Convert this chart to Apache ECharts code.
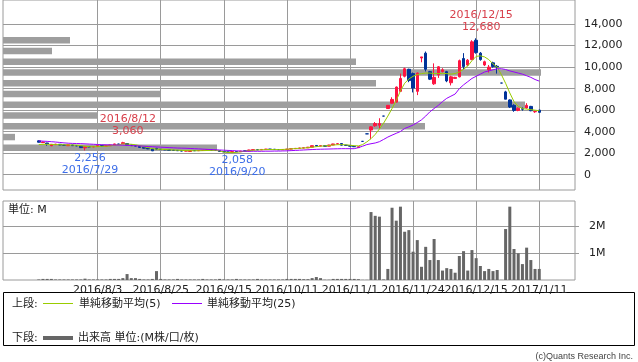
<!DOCTYPE html>
<html><head><meta charset="utf-8">
<script src="https://cdn.jsdelivr.net/npm/echarts@6/dist/echarts.min.js"></script>
<style>html,body{margin:0;padding:0;background:#fff}#c{width:638px;height:362px}</style>
</head><body><div id="c"></div>
<script>
const dates = ['2016/7/13','2016/7/14','2016/7/15','2016/7/19','2016/7/20','2016/7/21','2016/7/22','2016/7/25','2016/7/26','2016/7/27','2016/7/28','2016/7/29',
'2016/8/1','2016/8/2','2016/8/3','2016/8/4','2016/8/5','2016/8/8','2016/8/9','2016/8/10','2016/8/12','2016/8/15','2016/8/16','2016/8/17','2016/8/18','2016/8/19','2016/8/22','2016/8/23','2016/8/24','2016/8/25','2016/8/26','2016/8/29','2016/8/30','2016/8/31',
'2016/9/1','2016/9/2','2016/9/5','2016/9/6','2016/9/7','2016/9/8','2016/9/9','2016/9/12','2016/9/13','2016/9/14','2016/9/15','2016/9/16','2016/9/20','2016/9/21','2016/9/23','2016/9/26','2016/9/27','2016/9/28','2016/9/29','2016/9/30',
'2016/10/3','2016/10/4','2016/10/5','2016/10/6','2016/10/7','2016/10/11','2016/10/12','2016/10/13','2016/10/14','2016/10/17','2016/10/18','2016/10/19','2016/10/20','2016/10/21','2016/10/24','2016/10/25','2016/10/26','2016/10/27','2016/10/28','2016/10/31',
'2016/11/1','2016/11/2','2016/11/4','2016/11/7','2016/11/8','2016/11/9','2016/11/10','2016/11/11','2016/11/14','2016/11/15','2016/11/16','2016/11/17','2016/11/18','2016/11/21','2016/11/22','2016/11/24','2016/11/25','2016/11/28','2016/11/29','2016/11/30',
'2016/12/1','2016/12/2','2016/12/5','2016/12/6','2016/12/7','2016/12/8','2016/12/9','2016/12/12','2016/12/13','2016/12/14','2016/12/15','2016/12/16','2016/12/19','2016/12/20','2016/12/21','2016/12/22','2016/12/26','2016/12/27','2016/12/28','2016/12/29','2016/12/30',
'2017/1/4','2017/1/5','2017/1/6','2017/1/10','2017/1/11'];

const opens  = [3150,2980,2950,2700,2800,2830,2760,2700,2760,2700,2650,2500,2620,2580,2620,2690,2660,2700,2780,2850,2880,2900,2760,2700,2640,2540,2470,2400,2450,2370,
2330,2310,2270,2260,2230,2200,2160,2240,2230,2250,2270,2300,2280,2240,2160,2120,2080,2160,2140,2220,2200,2300,2330,2310,2350,2380,2370,2340,2320,2340,
2380,2420,2450,2480,2500,2560,2720,2660,2700,2650,2760,2860,2900,2750,2720,2640,2520,3100,3800,4150,4550,4600,5450,6150,6650,6750,7750,9150,9800,9400,
7750,10850,11300,9580,8450,9280,9600,9580,8550,8950,9100,10800,10200,10700,12500,11300,10200,9750,10400,10080,8520,7700,6950,6450,5980,6150,6200,6350,5850,6000];
const closes = [3020,3040,2870,2820,2840,2760,2740,2780,2700,2690,2520,2600,2580,2620,2700,2660,2700,2760,2860,2830,2980,2760,2700,2660,2540,2470,2400,2220,2380,2330,
2310,2270,2260,2230,2200,2210,2240,2230,2250,2270,2300,2280,2250,2160,2120,2100,2150,2130,2200,2190,2300,2330,2310,2350,2380,2360,2340,2320,2340,2380,
2420,2450,2480,2500,2560,2700,2660,2700,2640,2760,2860,2880,2750,2720,2650,2600,2600,3100,3800,4450,4750,4750,5450,6450,7000,8150,8950,9850,8750,8050,
9450,10950,9800,8880,9050,10030,9750,8720,9100,9050,10600,10050,10650,12350,11350,10700,10500,10000,10050,10020,8520,7020,6300,5980,6180,6080,6450,5950,5880,5800];
const lows   = [2990,2950,2700,2650,2780,2740,2720,2680,2680,2650,2500,2256,2560,2560,2600,2640,2650,2680,2760,2800,2860,2740,2680,2640,2520,2440,2380,2200,2300,2310,
2290,2250,2240,2210,2180,2180,2150,2210,2210,2230,2250,2260,2230,2150,2100,2080,2058,2110,2130,2170,2190,2280,2290,2300,2330,2340,2320,2300,2300,2320,
2360,2400,2430,2460,2480,2540,2640,2640,2620,2640,2740,2840,2720,2700,2620,2580,2480,3100,3800,3300,4450,4300,5450,6150,6600,6700,7700,9050,8600,7650,
7400,10450,9600,8800,8350,9000,9500,8600,8300,8900,9050,9800,10100,10650,11250,10600,10100,9500,9950,9400,8520,7020,6200,5850,5900,5950,6150,5900,5750,5750];
const highs  = [3200,3080,2960,2850,2870,2850,2780,2790,2770,2720,2660,2610,2650,2640,2720,2710,2720,2780,2880,2870,3060,2930,2780,2720,2660,2560,2480,2410,2500,2390,
2340,2320,2290,2280,2250,2230,2250,2260,2270,2290,2320,2320,2290,2250,2180,2140,2160,2180,2210,2240,2320,2350,2350,2370,2400,2400,2390,2360,2360,2400,
2440,2470,2500,2520,2580,2720,2760,2720,2720,2780,2880,2920,2930,2780,2740,2660,2620,3100,3800,4500,4900,5250,5450,6450,7200,8200,9400,9950,9850,9500,
9500,10950,11450,9650,10350,10100,9900,9650,9200,9100,10700,11300,10750,12500,12680,11400,10600,10200,10500,10200,8520,7800,7000,6550,6250,6250,6650,6400,5950,6050];

const volumes = [0.02,0.04,0.04,0.04,0.02,0.02,0.02,0.02,0.02,0.02,0.02,0.05,0.02,0.02,0.02,0.02,0.02,0.04,0.04,0.04,0.07,0.22,0.07,0.07,0.04,0.02,0.02,0.04,0.33,0.04,
0.02,0.02,0.02,0.04,0.02,0.02,0.02,0.02,0.02,0.04,0.02,0.02,0.02,0.04,0.02,0.02,0.02,0.04,0.02,0.02,0.02,0.02,0.04,0.02,0.02,0.02,0.02,0.02,0.02,0.04,
0.04,0.04,0.04,0.03,0.03,0.07,0.11,0.07,0.01,0.01,0.04,0.04,0.04,0.04,0.04,0.04,0.03,0.005,0.005,2.52,2.38,2.35,0.02,0.41,2.68,2.20,2.72,1.79,1.85,1.05,
1.48,0.49,1.23,0.74,1.52,0.74,0.35,0.44,0.41,0.27,0.89,1.07,0.35,1.11,0.81,0.52,0.33,0.41,0.33,0.37,0.005,1.89,2.72,1.15,0.99,0.59,1.20,0.74,0.41,0.41];

const ma5 = [2810,2820,2830,2820,2800,2790,2780,2770,2760,2740,2700,2650,2610,2600,2610,2630,2650,2690,2740,2790,2850,2850,2830,2780,2700,2600,2520,2430,
2380,2360,2340,2320,2300,2280,2260,2240,2230,2230,2230,2240,2250,2260,2260,2220,2110,2070,2050,2080,2130,2180,2230,2270,2300,2320,2330,2340,2340,2340,
2350,2370,2400,2430,2460,2480,2510,2560,2610,2650,2680,2720,2760,2790,2800,2780,2740,2700,2680,2800,3050,3350,3750,4250,4800,5450,6150,6900,7800,
8500,8900,9150,9300,9400,9450,9450,9400,9400,9420,9400,9350,9400,9550,9800,10100,10600,11000,11050,10950,10700,10300,10000,9300,8500,7600,6800,6350,6150,6100,6050,6000,5950];
const ma25 = [3150,3120,3100,3070,3040,3000,2960,2930,2910,2900,2890,2870,2850,2830,2810,2790,2780,2770,2760,2760,2750,2730,2710,2690,2670,2650,2620,2600,
2580,2560,2540,2520,2500,2480,2470,2460,2440,2420,2400,2380,2360,2340,2320,2300,2280,2260,2240,2220,2200,2190,2180,2180,2180,2180,2190,2190,2200,2200,2210,
2220,2240,2260,2280,2300,2320,2340,2360,2370,2380,2390,2400,2410,2420,2420,2420,2420,
2520,2650,2800,2880,2950,3070,3280,3500,3680,3850,4020,4300,4450,4620,4850,5100,5450,5850,6150,6450,6800,7100,7300,7500,8000,8350,8650,8950,9150,9350,
9550,9650,9750,9850,9850,9780,9650,9550,9450,9350,9200,9050,8850,8700];

// price-band volume profile
const bandLows = [2000,3000,4000,5000,6000,7000,8000,9000,10000,11000,12000];
const bandVolumes = [214,12,422,95,522,157,373,538,353,49,67];

const labelDates = ['2016/8/3','2016/8/25','2016/9/15','2016/10/11','2016/11/1','2016/11/24','2016/12/15','2017/1/11'];
const priceTicks = [0,2000,4000,6000,8000,10000,12000,14000];
const volumeTicks = [1,2];

// high / low annotations
const annDates  = ['2016/12/15','2016/8/12','2016/7/29','2016/9/20'];
const annValues = [12680,3060,2256,2058];
const annKinds  = ['high','high','low','low'];

const flatDown = ['2016/11/7','2016/11/8','2016/11/14','2016/12/26'];

const padBefore = 8, padAfter = 8;
const categories = [];
for (let i = 0; i < padBefore; i++) categories.push('_a' + i);
dates.forEach(d => categories.push(d));
for (let i = 0; i < padAfter; i++) categories.push('_b' + i);

const UP = '#ff1440', DOWN = '#003399';
const GRIDC = '#9a9a9a';
const FONT = "'DejaVu Sans', 'Noto Sans CJK JP', sans-serif";

const candleData = dates.map((d, i) => {
  const item = { value: [d, opens[i], closes[i], lows[i], highs[i]] };
  if (flatDown.includes(d)) item.itemStyle = { color: DOWN, borderColor: DOWN, color0: DOWN, borderColor0: DOWN };
  return item;
});
const fmt = v => Number(v).toLocaleString('en-US');
const showDate = (idx, val) => labelDates.includes(val);

const markData = annDates.map((d, i) => {
  const hi = annKinds[i] === 'high';
  return {
    coord: [d, annValues[i]], value: annValues[i],
    label: {
      show: true,
      formatter: hi ? (d + '\n' + fmt(annValues[i])) : (fmt(annValues[i]) + '\n' + d),
      position: hi ? 'top' : 'bottom',
      distance: hi ? 5 : 2,
      offset: [5, 0],
      color: hi ? '#d8404c' : '#3d6ee8',
      fontFamily: FONT, fontSize: 11, lineHeight: 12
    }
  };
});

const chart = echarts.init(document.getElementById('c'), null, { renderer: 'canvas' });
chart.setOption({
  animation: false,
  backgroundColor: '#fff',
  grid: [
    { left: 3, top: 0, width: 572, height: 190, show: true, borderColor: GRIDC, borderWidth: 1 },
    { left: 3, top: 201, width: 572, height: 79, show: true, borderColor: GRIDC, borderWidth: 1 }
  ],
  xAxis: [
    { type: 'category', gridIndex: 0, data: categories, boundaryGap: true,
      axisLine: { show: false }, axisTick: { show: false }, axisLabel: { show: false },
      splitLine: { show: true, interval: showDate, alignWithLabel: true, lineStyle: { color: GRIDC, width: 1 } } },
    { type: 'value', gridIndex: 0, min: 0, max: 572, show: false, splitLine: { show: false } },
    { type: 'category', gridIndex: 1, data: categories, boundaryGap: true,
      axisLine: { show: false }, axisTick: { show: false },
      axisLabel: { interval: showDate, margin: 5, color: '#222', fontFamily: FONT, fontSize: 11 },
      splitLine: { show: true, interval: showDate, alignWithLabel: true, lineStyle: { color: GRIDC, width: 1 } } }
  ],
  yAxis: [
    { type: 'value', gridIndex: 0, position: 'right', min: -1420, max: 16240,
      axisLine: { show: false },
      axisTick: { show: true, length: 4, customValues: priceTicks, lineStyle: { color: GRIDC } },
      axisLabel: { customValues: priceTicks, formatter: fmt, margin: 9, color: '#222', fontFamily: FONT, fontSize: 11 },
      splitLine: { show: true, lineStyle: { color: GRIDC, width: 1 } } },
    { type: 'value', gridIndex: 1, position: 'right', min: 0, max: 2.93,
      axisLine: { show: false },
      axisTick: { show: true, length: 4, customValues: volumeTicks, lineStyle: { color: GRIDC } },
      axisLabel: { customValues: volumeTicks, formatter: v => v + 'M', margin: 14, color: '#222', fontFamily: FONT, fontSize: 11 },
      splitLine: { show: true, lineStyle: { color: GRIDC, width: 1 } } }
  ],
  series: [
    { type: 'custom', name: 'profile', xAxisIndex: 1, yAxisIndex: 0, z: 1, silent: true,
      data: bandLows.map((b, i) => [b, b + 1000, bandVolumes[i]]),
      encode: { x: 2, y: [0, 1] },
      renderItem: function (params, api) {
        const lo = api.value(0), hi = api.value(1), vol = api.value(2);
        const mid = (lo + hi) / 2;
        const p0 = api.coord([0, mid + 300]);
        const p1 = api.coord([vol, mid - 300]);
        return { type: 'rect', shape: { x: p0[0], y: p0[1], width: p1[0] - p0[0], height: p1[1] - p0[1] }, style: { fill: '#9e9e9e' } };
      } },
    { type: 'candlestick', name: 'price', xAxisIndex: 0, yAxisIndex: 0, z: 3,
      data: candleData, encode: { x: 0, y: [1, 2, 3, 4] }, barWidth: 3,
      itemStyle: { color: UP, color0: DOWN, borderColor: UP, borderColor0: DOWN, borderWidth: 1 },
      markPoint: { symbol: 'circle', symbolSize: 0, silent: true, data: markData } },
    { type: 'line', name: '単純移動平均(5)', xAxisIndex: 0, yAxisIndex: 0, z: 4, symbol: 'none',
      data: dates.map((d, i) => [d, ma5[i]]), lineStyle: { color: '#99cc00', width: 1 } },
    { type: 'line', name: '単純移動平均(25)', xAxisIndex: 0, yAxisIndex: 0, z: 4, symbol: 'none',
      data: dates.map((d, i) => [d, ma25[i]]), lineStyle: { color: '#9900ff', width: 1 } },
    { type: 'bar', name: '出来高', xAxisIndex: 2, yAxisIndex: 1, barWidth: 3,
      data: dates.map((d, i) => [d, volumes[i]]), itemStyle: { color: '#666' } }
  ],
  graphic: [
    { type: 'text', x: 8, y: 210, style: { text: '単位: M', font: '11px ' + FONT, fill: '#222', verticalAlign: 'middle' } },
    { type: 'rect', shape: { x: 3.5, y: 292.5, width: 631, height: 53 }, style: { fill: 'none', stroke: '#000', lineWidth: 1 } },
    { type: 'text', x: 12, y: 304, style: { text: '上段:', font: '11px ' + FONT, fill: '#222', verticalAlign: 'middle' } },
    { type: 'line', shape: { x1: 43, y1: 303.5, x2: 73, y2: 303.5 }, style: { stroke: '#99cc00', lineWidth: 1 } },
    { type: 'text', x: 79, y: 304, style: { text: '単純移動平均(5)', font: '11px ' + FONT, fill: '#222', verticalAlign: 'middle' } },
    { type: 'line', shape: { x1: 172, y1: 303.5, x2: 202, y2: 303.5 }, style: { stroke: '#9900ff', lineWidth: 1 } },
    { type: 'text', x: 207, y: 304, style: { text: '単純移動平均(25)', font: '11px ' + FONT, fill: '#222', verticalAlign: 'middle' } },
    { type: 'text', x: 12, y: 338, style: { text: '下段:', font: '11px ' + FONT, fill: '#222', verticalAlign: 'middle' } },
    { type: 'line', shape: { x1: 43, y1: 338, x2: 73, y2: 338 }, style: { stroke: '#666', lineWidth: 4 } },
    { type: 'text', x: 78, y: 338, style: { text: '出来高 単位:(M株/口/枚)', font: '11px ' + FONT, fill: '#222', verticalAlign: 'middle' } },
    { type: 'text', x: 633, y: 357, style: { text: '(c)Quants Research Inc.', font: "9px 'Liberation Sans Narrow', 'Liberation Sans', sans-serif", fill: '#444', align: 'right', verticalAlign: 'middle' } }
  ]
});
</script></body></html>
